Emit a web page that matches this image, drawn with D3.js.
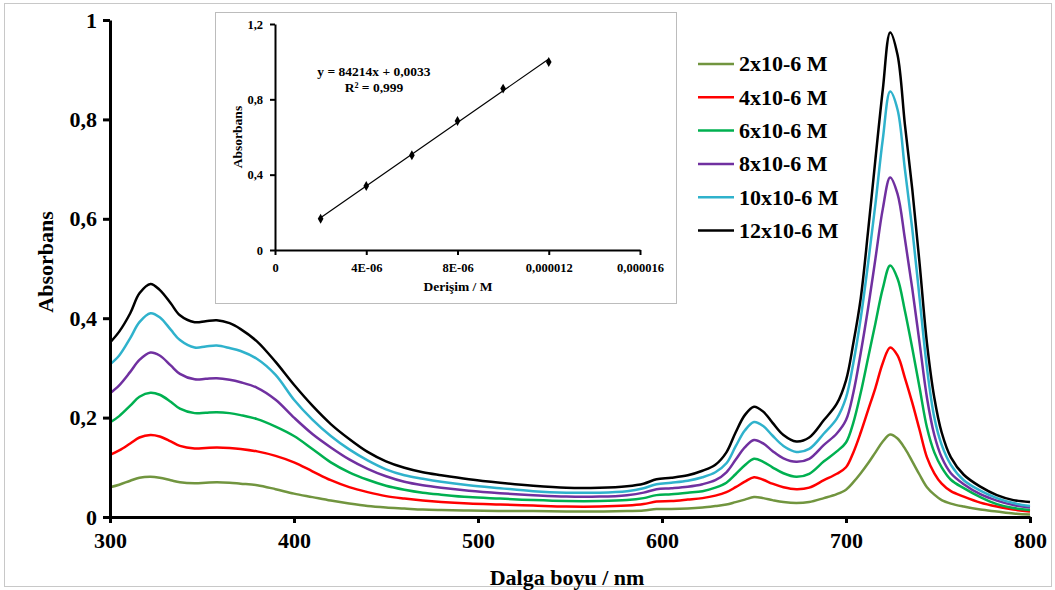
<!DOCTYPE html>
<html>
<head>
<meta charset="utf-8">
<script src="https://cdn.jsdelivr.net/npm/d3@7"></script>
<style>
    body { margin: 0; background: #fff; }
    svg { display: block; font-family: "Liberation Serif", "Times New Roman", serif; font-weight: bold; }
    .axis text { font-size: 22px; font-weight: bold; fill: #000; font-family: "Liberation Serif", "Times New Roman", serif; }
    .axis path, .axis line { stroke: #000; stroke-width: 3; }
    .inset .axis text { font-size: 12.5px; }
    .inset .axis path, .inset .axis line { stroke-width: 2; }
    .line { fill: none; stroke-width: 2.5; stroke-linejoin: round; }
    .title { font-size: 22px; }
    .inset .title { font-size: 13.5px; }
</style>
</head>
<body>
<div id="chart"></div>
<script>
// wavelengths (nm)
const wavelength = [300, 305, 311, 316, 322, 327, 333, 338, 346, 352, 358, 365, 371, 380, 390,
    400, 410, 420, 430, 440, 450, 460, 470, 480, 495, 512, 530, 548, 566, 581, 590, 597, 605,
    614, 622, 629, 635, 640, 645, 650, 655, 660, 666, 673, 680, 688, 695, 700,
    704, 708, 712, 716, 720, 724, 728, 732, 736, 740, 744, 748, 752, 757, 764, 773, 782, 791, 800];

const abs_2 = [0.06, 0.065, 0.073, 0.079, 0.081, 0.079, 0.074, 0.07, 0.068, 0.069, 0.07, 0.069, 0.067, 0.064, 0.056,
    0.047, 0.04, 0.033, 0.027, 0.022, 0.019, 0.017, 0.015, 0.014, 0.013, 0.012, 0.012, 0.011, 0.011, 0.012, 0.013, 0.016, 0.016,
    0.017, 0.019, 0.022, 0.025, 0.03, 0.035, 0.04, 0.038, 0.034, 0.03, 0.028, 0.03, 0.038, 0.046, 0.055,
    0.07, 0.088, 0.108, 0.13, 0.152, 0.166, 0.158, 0.138, 0.112, 0.085, 0.06, 0.045, 0.034, 0.027, 0.021, 0.015, 0.011, 0.007, 0.005];

const abs_4 = [0.125, 0.134, 0.148, 0.16, 0.165, 0.162, 0.152, 0.143, 0.138, 0.139, 0.14, 0.139, 0.137, 0.132, 0.123,
    0.11, 0.092, 0.074, 0.06, 0.05, 0.042, 0.037, 0.033, 0.03, 0.027, 0.025, 0.023, 0.021, 0.021, 0.023, 0.026, 0.031, 0.032,
    0.035, 0.038, 0.043, 0.05, 0.06, 0.071, 0.08, 0.075, 0.067, 0.06, 0.056, 0.059, 0.074, 0.087, 0.1,
    0.13, 0.17, 0.215, 0.26, 0.31, 0.341, 0.325, 0.28, 0.23, 0.175, 0.12, 0.088, 0.067, 0.052, 0.041, 0.029, 0.021, 0.015, 0.011];

const abs_6 = [0.19, 0.203, 0.224, 0.242, 0.25, 0.246, 0.232, 0.218, 0.209, 0.21, 0.211, 0.209, 0.205, 0.197, 0.182,
    0.163, 0.137, 0.11, 0.09, 0.075, 0.063, 0.055, 0.049, 0.045, 0.04, 0.037, 0.034, 0.032, 0.032, 0.034, 0.038, 0.044, 0.046,
    0.049, 0.052, 0.059, 0.069, 0.086, 0.104, 0.117, 0.111, 0.1, 0.088, 0.081, 0.087, 0.112, 0.132, 0.15,
    0.19, 0.25, 0.32, 0.39, 0.46, 0.506, 0.48, 0.415, 0.34, 0.26, 0.18, 0.13, 0.10, 0.075, 0.058, 0.04, 0.026, 0.018, 0.014];

const abs_8 = [0.249, 0.265, 0.292, 0.316, 0.331, 0.325, 0.305, 0.288, 0.277, 0.278, 0.279, 0.276, 0.271, 0.26, 0.236,
    0.2, 0.167, 0.14, 0.116, 0.097, 0.082, 0.071, 0.064, 0.059, 0.053, 0.048, 0.044, 0.041, 0.041, 0.044, 0.049, 0.056, 0.058,
    0.061, 0.066, 0.074, 0.09, 0.115, 0.14, 0.155, 0.148, 0.133, 0.118, 0.111, 0.117, 0.145, 0.168, 0.195,
    0.25, 0.33, 0.42, 0.52, 0.62, 0.683, 0.65, 0.56, 0.46, 0.35, 0.24, 0.165, 0.12, 0.088, 0.066, 0.046, 0.033, 0.024, 0.019];

const abs_10 = [0.307, 0.325, 0.36, 0.392, 0.41, 0.402, 0.377, 0.356, 0.341, 0.343, 0.345, 0.34, 0.334, 0.318, 0.286,
    0.236, 0.196, 0.163, 0.136, 0.114, 0.096, 0.084, 0.077, 0.071, 0.064, 0.058, 0.052, 0.049, 0.049, 0.052, 0.058, 0.066, 0.069,
    0.073, 0.08, 0.09, 0.108, 0.142, 0.174, 0.191, 0.183, 0.164, 0.143, 0.131, 0.137, 0.168, 0.198, 0.24,
    0.31, 0.40, 0.51, 0.63, 0.76, 0.856, 0.82, 0.70, 0.58, 0.44, 0.30, 0.20, 0.145, 0.105, 0.074, 0.053, 0.038, 0.028, 0.022];

const abs_12 = [0.351, 0.373, 0.41, 0.45, 0.469, 0.457, 0.43, 0.406, 0.392, 0.394, 0.396, 0.39, 0.378, 0.353, 0.312,
    0.266, 0.224, 0.187, 0.157, 0.131, 0.112, 0.099, 0.09, 0.084, 0.076, 0.069, 0.063, 0.059, 0.059, 0.062, 0.067, 0.076, 0.079,
    0.084, 0.093, 0.105, 0.13, 0.17, 0.205, 0.222, 0.212, 0.19, 0.165, 0.152, 0.16, 0.195, 0.228, 0.275,
    0.35, 0.44, 0.575, 0.72, 0.86, 0.975, 0.93, 0.79, 0.66, 0.51, 0.35, 0.24, 0.17, 0.12, 0.085, 0.061, 0.044, 0.034, 0.030];

const series_labels = ["2x10-6 M", "4x10-6 M", "6x10-6 M", "8x10-6 M", "10x10-6 M", "12x10-6 M"];
const series_values = [abs_2, abs_4, abs_6, abs_8, abs_10, abs_12];
const series_colors = ["#71953f", "#ff0000", "#00b050", "#7030a0", "#2fb2cc", "#000000"];

const x_ticks = [300, 400, 500, 600, 700, 800];
const y_ticks = [0, 0.2, 0.4, 0.6, 0.8, 1];

// calibration inset
const conc = [2e-6, 4e-6, 6e-6, 8e-6, 10e-6, 12e-6];
const conc_abs = [0.166, 0.34, 0.503, 0.685, 0.857, 0.998];
const fit_slope = 84214;
const fit_intercept = 0.0033;
const inset_x_ticks = [0, 4e-6, 8e-6, 12e-6, 16e-6];
const inset_x_labels = ["0", "4E-06", "8E-06", "0,000012", "0,000016"];
const inset_y_ticks = [0, 0.4, 0.8, 1.2];

const comma = d => String(d).replace(".", ",");

class spectraChart {
    constructor(id) {
        this.select = d3.select(`#${id}`);
        this.init();
        this.createSVG();
        this.add_axis();
        this.build_chart();
        this.add_legend();
        this.add_inset();
    }

    init() {
        this.margin = {t: 20, l: 110, r: 25, b: 73};
        this.width = 1055 - this.margin.l - this.margin.r;
        this.height = 590 - this.margin.t - this.margin.b;

        this.scale_x = d3
            .scaleLinear()
            .domain([300, 800])
            .range([0, this.width]);

        this.scale_y = d3
            .scaleLinear()
            .domain([0, 1])
            .range([this.height, 0]);

        this.line = d3
            .line()
            .curve(d3.curveCatmullRom.alpha(0.5))
            .x(d => this.scale_x(d[0]))
            .y(d => this.scale_y(d[1]));
    }

    createSVG() {
        this.plot = this.select
            .append("svg")
            .attr("width", 1055)
            .attr("height", 590);

        this.plot.append("rect")
            .attr("x", 4.5)
            .attr("y", 3.5)
            .attr("width", 1047)
            .attr("height", 583)
            .attr("fill", "#fff")
            .attr("stroke", "#c8c8c8");

        this.plot_chart = this.plot.append("g")
            .attr("class", "chart")
            .attr("transform", `translate(${this.margin.l}, ${this.margin.t})`);
        this.axis_x = this.plot.append("g")
            .attr("class", "axis axis-x")
            .attr("transform", `translate(${this.margin.l}, ${this.height + this.margin.t})`);
        this.axis_y = this.plot.append("g")
            .attr("class", "axis axis-y")
            .attr("transform", `translate(${this.margin.l}, ${this.margin.t})`);
    }

    add_axis() {
        const axis_x = d3
            .axisBottom(this.scale_x)
            .tickValues(x_ticks)
            .tickSize(6)
            .tickSizeOuter(0)
            .tickPadding(9);

        const axis_y = d3
            .axisLeft(this.scale_y)
            .tickValues(y_ticks)
            .tickSize(7)
            .tickSizeOuter(0)
            .tickPadding(6)
            .tickFormat(comma);

        this.axis_x.call(axis_x);
        this.axis_y.call(axis_y);

        this.plot.append("text")
            .attr("class", "title")
            .attr("x", this.margin.l + this.width / 2 - 3)
            .attr("y", 585)
            .attr("text-anchor", "middle")
            .text("Dalga boyu / nm");

        this.plot.append("text")
            .attr("class", "title")
            .attr("transform", `translate(53, ${this.margin.t + 242}) rotate(-90)`)
            .attr("text-anchor", "middle")
            .text("Absorbans");
    }

    build_chart() {
        const data = series_values.map((v, i) => ({
            color: series_colors[i],
            points: wavelength.map((w, j) => [w, v[j]])
        }));

        this.plot_chart
            .selectAll(".main-line")
            .data(data)
            .join("path")
            .attr("class", "line main-line")
            .attr("stroke", d => d.color)
            .attr("d", d => this.line(d.points));
    }

    add_legend() {
        const legend = this.plot.append("g")
            .attr("class", "legend")
            .attr("transform", "translate(698, 64)");

        const rows = legend
            .selectAll("g")
            .data(series_labels)
            .join("g")
            .attr("transform", (d, i) => `translate(0, ${i * 33.3})`);

        rows.append("line")
            .attr("x1", 0)
            .attr("x2", 36)
            .attr("stroke", (d, i) => series_colors[i])
            .attr("stroke-width", 2.5);

        rows.append("text")
            .attr("x", 41)
            .attr("dy", "0.34em")
            .attr("font-size", 22)
            .text(d => d);
    }

    add_inset() {
        const box = {x: 215, y: 12, w: 461, h: 291};
        const inset = this.plot.append("g").attr("class", "inset");

        inset.append("rect")
            .attr("x", box.x + 0.5)
            .attr("y", box.y + 0.5)
            .attr("width", box.w)
            .attr("height", box.h)
            .attr("fill", "#fff")
            .attr("stroke", "#bcbcbc");

        const scale_x = d3
            .scaleLinear()
            .domain([0, 16e-6])
            .range([275, 640]);

        const scale_y = d3
            .scaleLinear()
            .domain([0, 1.2])
            .range([250, 24]);

        const axis_x = d3
            .axisBottom(scale_x)
            .tickValues(inset_x_ticks)
            .tickSize(5)
            .tickSizeOuter(0)
            .tickPadding(8)
            .tickFormat((d, i) => inset_x_labels[i]);

        const axis_y = d3
            .axisLeft(scale_y)
            .tickValues(inset_y_ticks)
            .tickSize(5)
            .tickSizeOuter(0)
            .tickPadding(7)
            .tickFormat(comma);

        inset.append("g")
            .attr("class", "axis")
            .attr("transform", "translate(0, 250)")
            .call(axis_x);

        inset.append("g")
            .attr("class", "axis")
            .attr("transform", "translate(275, 0)")
            .call(axis_y);

        // trend line from the fitted equation
        const fit = d3.extent(conc).map(c => [c, fit_slope * c + fit_intercept]);
        inset.append("path")
            .datum(fit)
            .attr("fill", "none")
            .attr("stroke", "#000")
            .attr("stroke-width", 1.2)
            .attr("d", d3.line().x(d => scale_x(d[0])).y(d => scale_y(d[1])));

        inset.selectAll(".dot")
            .data(conc.map((c, i) => [c, conc_abs[i]]))
            .join("path")
            .attr("class", "dot")
            .attr("d", d3.symbol(d3.symbolDiamond, 28))
            .attr("transform", d => `translate(${scale_x(d[0])}, ${scale_y(d[1])})`)
            .attr("fill", "#000");

        inset.append("text")
            .attr("class", "title")
            .attr("x", 374)
            .attr("y", 76)
            .attr("text-anchor", "middle")
            .text("y = 84214x + 0,0033");

        inset.append("text")
            .attr("class", "title")
            .attr("x", 374)
            .attr("y", 92)
            .attr("text-anchor", "middle")
            .text("R² = 0,999");

        inset.append("text")
            .attr("class", "title")
            .attr("x", 458)
            .attr("y", 291)
            .attr("text-anchor", "middle")
            .text("Derişim / M");

        inset.append("text")
            .attr("class", "title")
            .attr("transform", "translate(242, 137) rotate(-90)")
            .attr("text-anchor", "middle")
            .text("Absorbans");
    }
}

new spectraChart("chart");
</script>
</body>
</html>
